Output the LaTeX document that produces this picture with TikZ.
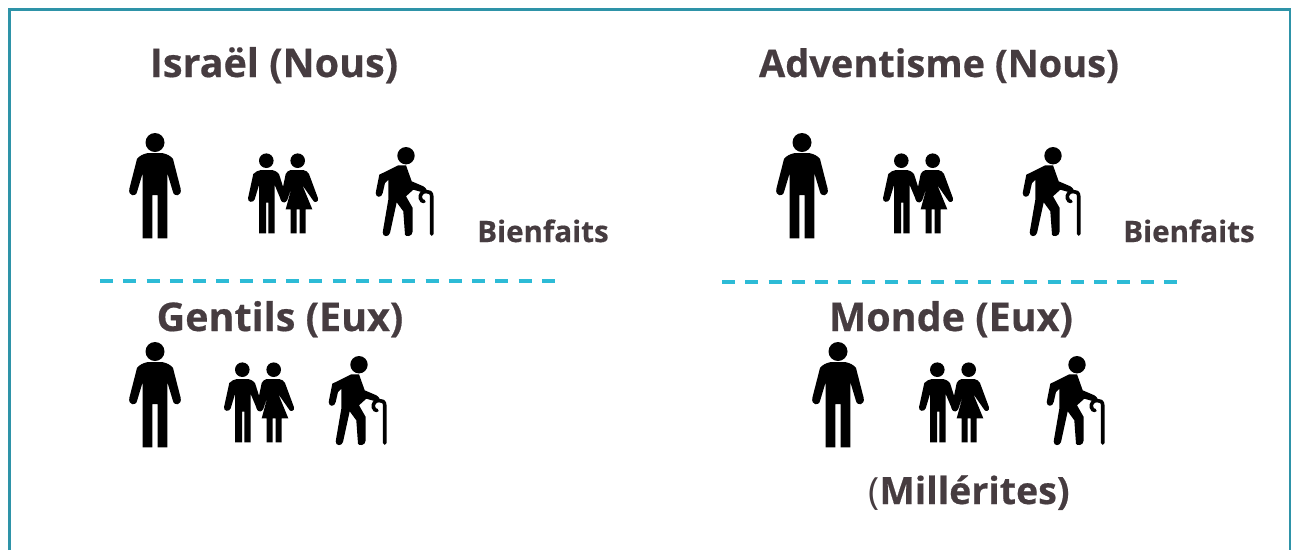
\documentclass[tikz,border=0pt]{standalone}
\usepackage{fontspec}
\setmainfont{Open Sans}[BoldFeatures={FakeBold=0.5}]
\definecolor{framecol}{HTML}{2E93A8}
\definecolor{dashcol}{HTML}{2DBBD6}
\definecolor{textcol}{HTML}{463C40}
\tikzset{
  bigtitle/.style={text=textcol, anchor=base, font=\fontsize{39.5}{40}\selectfont\bfseries, inner sep=0pt},
  smalltitle/.style={text=textcol, anchor=base, font=\fontsize{29.5}{30}\selectfont\bfseries, inner sep=0pt},
  separator/.style={dashcol, line width=3.2pt, dash pattern=on 13pt off 10.26pt},
  man/.pic={
    \fill (0,9.5) circle[radius=9.5];
    \fill (-7,20) -- (7,20) .. controls (12,21) and (16,23) .. (18,26) -- (25.7,56)
      .. controls (27,63) and (19,65) .. (17.7,58) -- (12.3,40) -- (12.3,105.3) -- (2.7,105.3) -- (2.7,62)
      -- (-2.7,62) -- (-2.7,105.3) -- (-12.3,105.3) -- (-12.3,40) -- (-17.7,58)
      .. controls (-19,65) and (-27,63) .. (-25.7,56) -- (-18,26) .. controls (-16,23) and (-12,21) .. cycle;
  },
  couple/.pic={
    % Draw the man
    \fill (18.3,7.7) circle[radius=7.3];
    \fill (12.7,17) -- (24.3,17) .. controls (27,17.5) and (29.5,19) .. (31,21) -- (38.7,45.3)
      .. controls (39.5,50) and (34.5,50.5) .. (33.3,47.7) -- (26.7,32) -- (26.7,80.3) -- (20.3,80.3) -- (20.3,49.7)
      -- (18,49.7) -- (18,80.3) -- (11,80.3) -- (11,32) -- (6.7,46.3)
      .. controls (5.5,50) and (-0.5,49.5) .. (0,45.3) -- (5.3,21) .. controls (7,19) and (10,17.5) .. cycle;
    % Draw the woman
    \fill (49.7,7.7) circle[radius=7.3];
    \fill (42.7,17) -- (55.3,17) .. controls (58,17.5) and (60,19) .. (61,21) -- (70,45.3)
      .. controls (71,49) and (66,51) .. (64.3,46.3) -- (54.3,32) -- (64.3,56.3) -- (57.7,56.3) -- (57.7,80.3)
      -- (51.7,80.3) -- (51.7,56.3) -- (48.7,56.3) -- (48.7,80.3) -- (42.7,80.3) -- (42.7,56.3) -- (37.7,56.3)
      -- (44.3,32) -- (39.3,47) .. controls (38,50) and (33,50) .. (32.5,46) -- (37.7,21)
      .. controls (38.5,19) and (40.5,17.5) .. cycle;
  },
  elder/.pic={
    \fill (30,8.7) circle[radius=8.7];
    \fill (22.3,18.3) -- (30,18.3) -- (35.7,34.3) -- (47.3,39.3) .. controls (51,41) and (52,46) .. (49,46)
      -- (37.3,42.7) -- (30,49.3) -- (36.7,61) -- (36.7,84.3) .. controls (36.5,90) and (29.5,90) .. (29,87.7)
      -- (27.3,64.3) -- (20.7,55.3) -- (14,86) .. controls (13,90) and (6.5,90.5) .. (6.7,85.3)
      -- (12.3,52.7) -- (12.3,32.7) -- (9,36) -- (6.7,46) .. controls (6,51) and (-0.5,51) .. (-0.3,46)
      -- (3.3,27.7) -- cycle;
    % Draw the cane
    \draw[line width=3.6pt, line cap=round] (55.7,87) -- (55.7,49)
      .. controls (55.7,45.5) and (53,44.5) .. (50,44.5) .. controls (46,44.5) and (43.5,48) .. (44.5,51.5)
      .. controls (45,53.5) and (46.5,54.5) .. (48,54.5);
  }
}
\begin{document}
\begin{tikzpicture}[x=1pt, y=-1pt]
  \useasboundingbox (0,0) rectangle (1291,550);

  % Draw frame
  \draw[framecol, line width=3pt] (9,550) -- (9,9) -- (1290,9) -- (1290,550);

  % Titles
  \node[bigtitle] (israel) at (274,77) {Israël (Nous)};
  \node[bigtitle, font=\fontsize{38}{38}\selectfont\bfseries] (adventisme) at (939,77) {Adventisme (Nous)};
  \node[bigtitle] (gentils) at (280,331) {Gentils (Eux)};
  \node[bigtitle] (monde) at (951,331) {Monde (Eux)};
  \node[bigtitle, font=\fontsize{37.5}{38}\selectfont\bfseries] (millerites) at (969,504) {\fontseries{m}\selectfont(\fontseries{b}\selectfont Millérites)};
  \node[smalltitle] (bienfaitsleft) at (543,242) {Bienfaits};
  \node[smalltitle] (bienfaitsright) at (1189,242) {Bienfaits};

  % Dashed separators
  \coordinate (sepleftA) at (100,281);
  \coordinate (sepleftB) at (555,281);
  \coordinate (seprightA) at (722,282);
  \coordinate (seprightB) at (1178,282);
  \draw[separator] (sepleftA) -- (sepleftB);
  \draw[separator] (seprightA) -- (seprightB);

  % People, top left
  \pic at (155,133) {man};
  \pic at (248,153) {couple};
  \pic at (376,147) {elder};

  % People, top right
  \pic at (802,133) {man};
  \pic at (883,153) {couple};
  \pic at (1023,147) {elder};

  % People, bottom left
  \pic at (155,342) {man};
  \pic at (224,362) {couple};
  \pic at (329,356) {elder};

  % People, bottom right
  \pic at (838,342) {man};
  \pic at (919,362) {couple};
  \pic at (1047,356) {elder};
\end{tikzpicture}
\end{document}
